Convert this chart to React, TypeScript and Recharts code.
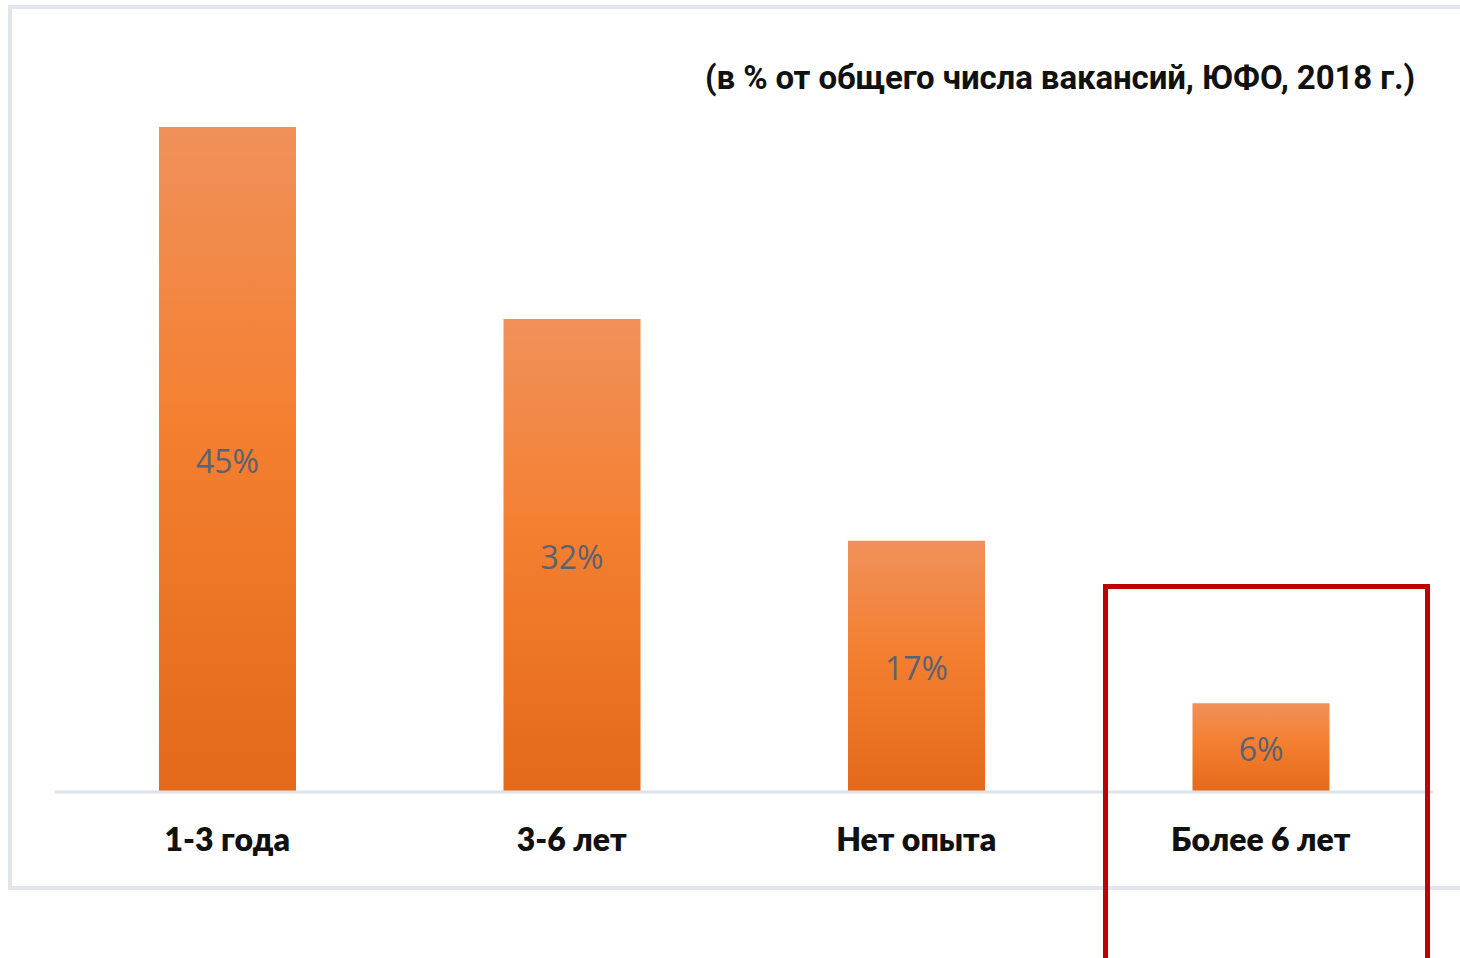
import { BarChart, Bar, XAxis, YAxis, LabelList } from 'recharts';

const categories = ['1-3 года', '3-6 лет', 'Нет опыта', 'Более 6 лет'];
const shares = [45, 32, 17, 6];
const title = '(в % от общего числа вакансий, ЮФО, 2018 г.)';

const data = categories.map((name, i) => ({ name, value: shares[i] }));

export default function App() {
  return (
    <div style={{ position: 'fixed', left: 0, top: 0, width: 1460, height: 958, overflow: 'hidden', background: '#fff' }}>
      {/* grey frame round the chart */}
      <div
        style={{
          position: 'absolute',
          left: 8,
          top: 5,
          width: 1460,
          height: 885,
          boxSizing: 'border-box',
          border: '4px solid #e1e5ec',
          borderRight: 'none',
        }}
      />
      <div
        style={{
          position: 'absolute',
          right: 45,
          top: 58,
          fontFamily: 'Roboto, sans-serif',
          fontWeight: 700,
          fontSize: 33,
          letterSpacing: -0.1,
          color: '#111',
          whiteSpace: 'nowrap',
        }}
      >
        {title}
      </div>
      <div style={{ position: 'absolute', left: 0, top: 0 }}>
        <BarChart width={1460} height={958} data={data} margin={{ top: 127, right: 27, bottom: 136, left: 55 }}>
          <defs>
            <linearGradient id="barFill" x1="0" y1="0" x2="0" y2="1">
              <stop offset="0%" stopColor="#f0915a" />
              <stop offset="45%" stopColor="#f47f30" />
              <stop offset="100%" stopColor="#e4691a" />
            </linearGradient>
          </defs>
          <XAxis
            dataKey="name"
            axisLine={{ stroke: '#dde1e8', strokeWidth: 3 }}
            tickLine={false}
            tickSize={0}
            tickMargin={36}
            tick={{ fill: '#111', fontSize: 32, fontWeight: 800, fontFamily: 'Lato, sans-serif' }}
            interval={0}
          />
          <YAxis hide domain={[0, 45]} />
          <Bar dataKey="value" fill="url(#barFill)" barSize={137} isAnimationActive={false}>
            <LabelList
              dataKey="value"
              position="center"
              offset={0}
              formatter={(v: number) => `${v}%`}
              style={{ fill: '#5a6272', fontSize: 32, fontFamily: '"Open Sans", sans-serif', transform: 'translateY(2px)' }}
            />
          </Bar>
        </BarChart>
      </div>
      {/* red highlight box */}
      <div
        style={{
          position: 'absolute',
          left: 1103,
          top: 584,
          width: 327,
          height: 400,
          boxSizing: 'border-box',
          border: '5px solid #c00000',
        }}
      />
    </div>
  );
}
